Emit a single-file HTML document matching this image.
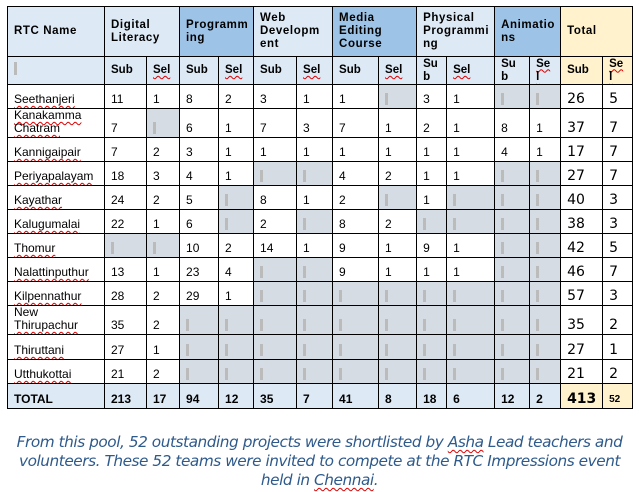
<!DOCTYPE html>
<html><head><style>
body{margin:0;width:639px;height:492px;background:#fff;font-family:"Liberation Sans",Arial,sans-serif;position:relative;overflow:hidden}
table{position:absolute;left:7px;top:6px;border-collapse:collapse;table-layout:fixed;width:626px}
td{border:1.5px solid #000;padding:0 0 0 6px;font-size:12px;color:#000;vertical-align:bottom;padding-bottom:2px;overflow:hidden;line-height:13px;white-space:nowrap}
tr.h1 td{font-weight:bold;vertical-align:middle;height:49px;letter-spacing:0.6px;padding-bottom:0;font-size:11.5px}
tr.h2 td{font-weight:bold;vertical-align:middle;height:27px;background:#dde9f5;padding-bottom:0;font-size:11.5px}
.l{background:#dde9f5}.d{background:#9dc3e6}.y{background:#fff2cc!important}
.g{background:#d6dce4;position:relative}
.g::after{content:"";position:absolute;left:6px;bottom:3px;width:3px;height:12px;background:#bbb}
.n{text-decoration:underline wavy #d00;text-decoration-thickness:1px;text-underline-offset:2px}
.t td{font-weight:bold;background:#dde9f5;height:22px}
.big{font-size:14px;font-family:"DejaVu Sans",sans-serif}
p{position:absolute;left:0;width:639px;top:433px;margin:0;text-align:center;font-style:italic;color:#2e5a8c;font-family:"DejaVu Sans",sans-serif;font-size:15.3px;line-height:19px;letter-spacing:-0.45px;white-space:nowrap}
</style></head><body>
<table>
<colgroup><col style="width:97px"><col style="width:42px"><col style="width:33px"><col style="width:39px"><col style="width:35px"><col style="width:43px"><col style="width:36px"><col style="width:46px"><col style="width:38px"><col style="width:30px"><col style="width:48px"><col style="width:35px"><col style="width:31px"><col style="width:42px"><col style="width:30px"></colgroup>
<tr class="h1"><td class="l">RTC Name</td><td class="l" colspan="2">Digital<br>Literacy</td><td class="d" colspan="2">Programm<br>ing</td><td class="l" colspan="2">Web<br>Developm<br>ent</td><td class="d" colspan="2">Media<br>Editing<br>Course</td><td class="l" colspan="2">Physical<br>Programmi<br>ng</td><td class="d" colspan="2">Animatio<br>ns</td><td class="y" colspan="2">Total</td></tr>
<tr class="h2"><td><span style="display:inline-block;width:3px;height:13px;background:#bbb"></span></td><td>Sub</td><td><span class="n">Sel</span></td><td>Sub</td><td><span class="n">Sel</span></td><td>Sub</td><td><span class="n">Sel</span></td><td>Sub</td><td><span class="n">Sel</span></td><td>Su<br>b</td><td><span class="n">Sel</span></td><td>Su<br>b</td><td><span class="n">Se<br>l</span></td><td class="y">Sub</td><td class="y"><span class="n">Se<br>l</span></td></tr>
<tr style="height:24px"><td><span class="n">Seethanjeri</span></td><td>11</td><td>1</td><td>8</td><td>2</td><td>3</td><td>1</td><td>1</td><td class="g"></td><td>3</td><td>1</td><td class="g"></td><td class="g"></td><td class="big">26</td><td class="big">5</td></tr>
<tr style="height:28px"><td><span class="n">Kanakamma</span><br><span class="n">Chatram</span></td><td>7</td><td class="g"></td><td>6</td><td>1</td><td>7</td><td>3</td><td>7</td><td>1</td><td>2</td><td>1</td><td>8</td><td>1</td><td class="big">37</td><td class="big">7</td></tr>
<tr style="height:24px"><td><span class="n">Kannigaipair</span></td><td>7</td><td>2</td><td>3</td><td>1</td><td>1</td><td>1</td><td>1</td><td>1</td><td>1</td><td>1</td><td>4</td><td>1</td><td class="big">17</td><td class="big">7</td></tr>
<tr style="height:24px"><td><span class="n">Periyapalayam</span></td><td>18</td><td>3</td><td>4</td><td>1</td><td class="g"></td><td class="g"></td><td>4</td><td>2</td><td>1</td><td>1</td><td class="g"></td><td class="g"></td><td class="big">27</td><td class="big">7</td></tr>
<tr style="height:24px"><td><span class="n">Kayathar</span></td><td>24</td><td>2</td><td>5</td><td class="g"></td><td>8</td><td>1</td><td>2</td><td class="g"></td><td>1</td><td class="g"></td><td class="g"></td><td class="g"></td><td class="big">40</td><td class="big">3</td></tr>
<tr style="height:24px"><td><span class="n">Kalugumalai</span></td><td>22</td><td>1</td><td>6</td><td class="g"></td><td>2</td><td class="g"></td><td>8</td><td>2</td><td class="g"></td><td class="g"></td><td class="g"></td><td class="g"></td><td class="big">38</td><td class="big">3</td></tr>
<tr style="height:24px"><td><span class="n">Thomur</span></td><td class="g"></td><td class="g"></td><td>10</td><td>2</td><td>14</td><td>1</td><td>9</td><td>1</td><td>9</td><td>1</td><td class="g"></td><td class="g"></td><td class="big">42</td><td class="big">5</td></tr>
<tr style="height:24px"><td><span class="n">Nalattinputhur</span></td><td>13</td><td>1</td><td>23</td><td>4</td><td class="g"></td><td class="g"></td><td>9</td><td>1</td><td>1</td><td>1</td><td class="g"></td><td class="g"></td><td class="big">46</td><td class="big">7</td></tr>
<tr style="height:24px"><td><span class="n">Kilpennathur</span></td><td>28</td><td>2</td><td>29</td><td>1</td><td class="g"></td><td class="g"></td><td class="g"></td><td class="g"></td><td class="g"></td><td class="g"></td><td class="g"></td><td class="g"></td><td class="big">57</td><td class="big">3</td></tr>
<tr style="height:27px"><td>New<br><span class="n">Thirupachur</span></td><td>35</td><td>2</td><td class="g"></td><td class="g"></td><td class="g"></td><td class="g"></td><td class="g"></td><td class="g"></td><td class="g"></td><td class="g"></td><td class="g"></td><td class="g"></td><td class="big">35</td><td class="big">2</td></tr>
<tr style="height:25px"><td><span class="n">Thiruttani</span></td><td>27</td><td>1</td><td class="g"></td><td class="g"></td><td class="g"></td><td class="g"></td><td class="g"></td><td class="g"></td><td class="g"></td><td class="g"></td><td class="g"></td><td class="g"></td><td class="big">27</td><td class="big">1</td></tr>
<tr style="height:24px"><td><span class="n">Utthukottai</span></td><td>21</td><td>2</td><td class="g"></td><td class="g"></td><td class="g"></td><td class="g"></td><td class="g"></td><td class="g"></td><td class="g"></td><td class="g"></td><td class="g"></td><td class="g"></td><td class="big">21</td><td class="big">2</td></tr>
<tr class="t"><td>TOTAL</td><td>213</td><td>17</td><td>94</td><td>12</td><td>35</td><td>7</td><td>41</td><td>8</td><td>18</td><td>6</td><td>12</td><td>2</td><td class="y big">413</td><td class="y" style="font-size:10px">52</td></tr>
</table>
<p>From this pool, 52 outstanding projects were shortlisted by <span class="n">Asha</span> Lead teachers and<br>volunteers. These 52 teams were invited to compete at the RTC Impressions event<br>held in <span class="n">Chennai</span>.</p>
</body></html>
